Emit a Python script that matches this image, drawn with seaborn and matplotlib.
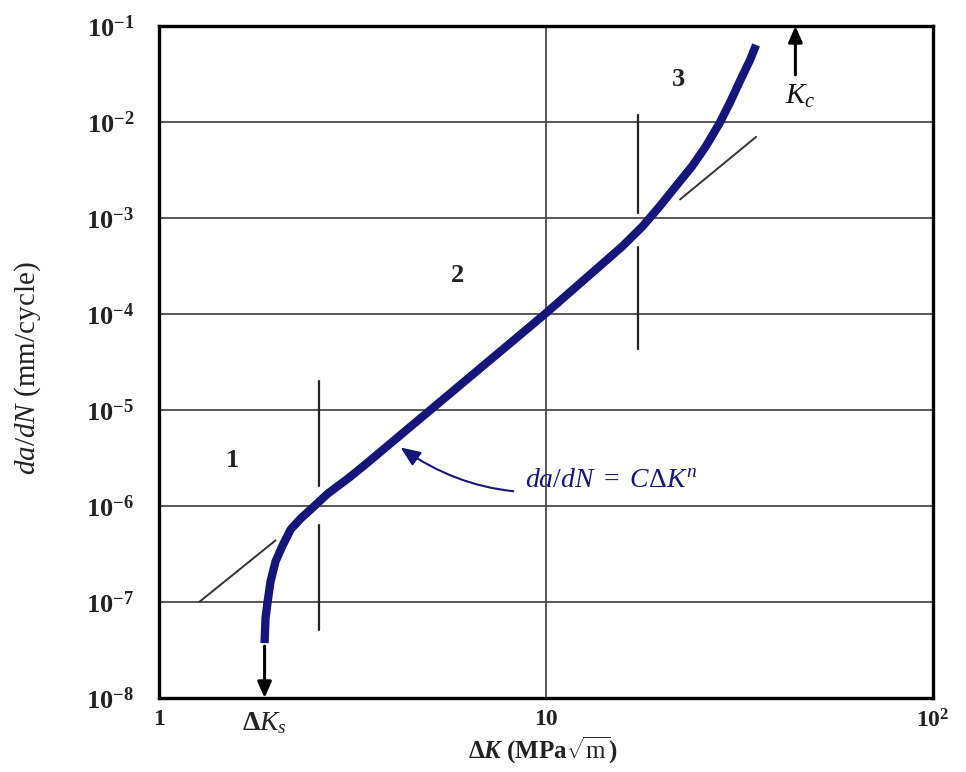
import numpy as np
import pandas as pd
import matplotlib
matplotlib.use("Agg")
import matplotlib.pyplot as plt
import seaborn as sns

# ---- data ----
curve_dk = [1.874, 1.885, 1.908, 1.942, 2.001, 2.087, 2.189, 2.324, 2.497, 2.731, 3.078,
            3.388, 9.94, 15.75, 17.76, 19.66, 21.63, 23.81, 25.86,
            28.13, 29.87, 31.72, 33.68, 34.9]
curve_rate = [3.73e-8, 6.79e-8, 1.0e-7, 1.64e-7, 2.65e-7, 3.89e-7, 5.70e-7, 7.41e-7, 9.64e-7,
              1.35e-6, 1.93e-6, 2.64e-6, 1.0e-4, 5.07e-4, 8.18e-4,
              1.32e-3, 2.13e-3, 3.43e-3, 5.54e-3, 9.84e-3, 1.59e-2, 2.68e-2, 4.44e-2, 6.35e-2]

tan_low_dk = [1.27, 2.0]
tan_low_rate = [1.0e-7, 4.38e-7]
tan_high_dk = [22.2, 34.9]
tan_high_rate = [1.56e-3, 7.0e-3]

div1_dk = 2.59
div1_segments = [(2.0e-5, 1.63e-6), (6.27e-7, 5.1e-8)]
div2_dk = 17.3
div2_segments = [(1.19e-2, 1.14e-3), (4.95e-4, 4.3e-5)]

region_labels = ["1", "2", "3"]
region_dk = [1.55, 5.91, 22.0]
region_rate = [2.97e-6, 2.54e-4, 2.8e-2]

dks_value = 1.874
kc_value = 44.1

x_ticks = [1, 10, 100]
x_ticklabels = ["1", "10", r"$\mathbf{10^2}$"]
y_ticks = [1e-8, 1e-7, 1e-6, 1e-5, 1e-4, 1e-3, 1e-2, 1e-1]
y_ticklabels = [r"$\mathbf{10^{-%d}}$" % k for k in range(8, 0, -1)]

# ---- style ----
sns.set_theme(style="white")
plt.rcParams["font.family"] = ["Liberation Serif", "DejaVu Serif"]
plt.rcParams["mathtext.fontset"] = "custom"
plt.rcParams["mathtext.rm"] = "Liberation Serif"
plt.rcParams["mathtext.it"] = "Liberation Serif:italic"
plt.rcParams["mathtext.bf"] = "Liberation Serif:bold"
plt.rcParams["mathtext.bfit"] = "Liberation Serif:bold:italic"

navy = "#16167a"
grid_c = "#4a4a4a"

fig = plt.figure(figsize=(9.66, 7.72), dpi=100)
ax = fig.add_axes([159 / 966, 74 / 772, (933 - 159) / 966, (698 - 26) / 772])
ax.set_xscale("log")
ax.set_yscale("log")
ax.set_xlim(1, 100)
ax.set_ylim(1e-8, 1e-1)

# grid: horizontal decades, vertical at 10
for yv in y_ticks[1:-1]:
    ax.axhline(yv, color=grid_c, lw=1.3, zorder=1)
ax.axvline(10, color=grid_c, lw=1.3, zorder=1)

# dividers
for xv, segs in [(div1_dk, div1_segments), (div2_dk, div2_segments)]:
    for top, bot in segs:
        seg = pd.DataFrame({"x": [xv, xv], "y": [top, bot]})
        sns.lineplot(data=seg, x="x", y="y", ax=ax, color="#222222", lw=1.6,
                     sort=False, estimator=None, zorder=2)

# tangent lines
for xs, ys in [(tan_low_dk, tan_low_rate), (tan_high_dk, tan_high_rate)]:
    sns.lineplot(x=xs, y=ys, ax=ax, color="#333333", lw=1.4, sort=False,
                 estimator=None, zorder=2)

# main curve
curve = pd.DataFrame({"dk": curve_dk, "rate": curve_rate})
sns.lineplot(data=curve, x="dk", y="rate", ax=ax, color=navy, lw=6,
             sort=False, estimator=None, zorder=4, solid_capstyle="butt",
             solid_joinstyle="round")

# arrows
ax.annotate("", xy=(dks_value, 1e-8), xytext=(dks_value, curve_rate[0] * 0.93),
            arrowprops=dict(arrowstyle="-|>,head_width=0.35,head_length=0.8",
                            color="black", lw=2.2, shrinkA=0, shrinkB=0), zorder=5)
ax.annotate("", xy=(kc_value, 1e-1), xytext=(kc_value, 3.1e-2),
            arrowprops=dict(arrowstyle="-|>,head_width=0.35,head_length=0.8",
                            color="black", lw=2.2, shrinkA=0, shrinkB=0), zorder=5)

# region numbers
for lab, xv, yv in zip(region_labels, region_dk, region_rate):
    ax.text(xv, yv, lab, fontsize=19, fontweight="bold", ha="center", va="center",
            color="#222222")

# Kc label
ax.text(45.5, 1.85e-2, r"$K_c$", fontsize=21, ha="center", va="center", color="#111111")

# equation annotation
ax.annotate(r"$da/dN\ =\ C\Delta K^n$", xy=(4.1, 4.4e-6), xytext=(8.82, 1.84e-6),
            fontsize=20, color=navy, ha="left", va="center",
            arrowprops=dict(arrowstyle="-|>,head_width=0.25,head_length=0.6",
                            color=navy, lw=1.5, shrinkA=6, shrinkB=4,
                            connectionstyle="arc3,rad=-0.25"), zorder=6)

# ticks
ax.set_xticks(x_ticks)
ax.set_xticklabels(x_ticklabels, fontsize=17, fontweight="bold")
ax.set_yticks(y_ticks)
ax.set_yticklabels(y_ticklabels, fontsize=19)
ax.minorticks_off()
ax.tick_params(axis="both", which="major", direction="in", length=0, colors="#222222")
ax.tick_params(axis="y", pad=18)
ax.tick_params(axis="x", pad=8)
for lab in ax.get_xticklabels():
    lab.set_color("#222222")

ax.set_xlabel("")
ax.set_ylabel("")

# Delta K_s label under axis
ax.text(dks_value, -0.038, r"$\mathbf{\Delta}\mathit{K_s}$", transform=ax.get_xaxis_transform(),
        fontsize=20, ha="center", va="center", color="#222222")

for s in ax.spines.values():
    s.set_color("black")
    s.set_linewidth(2.4)
    s.set_visible(True)

fig.text(543 / 966, 1 - 750 / 772, r"$\mathbf{\Delta}\mathbfit{K}$ (MPa$\mathbf{\sqrt{\mathrm{m}}}$)",
         fontsize=18, fontweight="bold", ha="center", va="center", color="#222222")
fig.text(28 / 966, 1 - 368 / 772, r"$da/dN$ (mm/cycle)", fontsize=21, rotation=90,
         ha="center", va="center", color="#222222")

fig.savefig("out.png", dpi=100, facecolor="white")
